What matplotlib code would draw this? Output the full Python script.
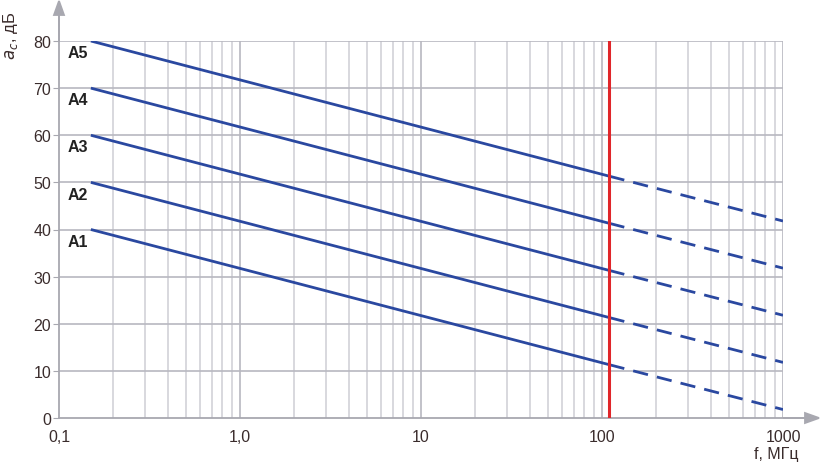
import matplotlib
matplotlib.use("Agg")
import matplotlib.pyplot as plt
import numpy as np
from matplotlib.ticker import FixedLocator, NullFormatter

plt.rcParams['font.family'] = ['Liberation Sans', 'DejaVu Sans']

names = ["A1", "A2", "A3", "A4", "A5"]
f_solid = [0.15, 110]
f_dash = [110, 1000]
v_start = [40, 50, 60, 70, 80]
v_mid = [11.3, 21.3, 31.3, 41.3, 51.3]
v_end = [1.8, 11.8, 21.8, 31.8, 41.8]
f_limit = 110
xticks = [0.1, 1, 10, 100, 1000]
xticklabels = ["0,1", "1,0", "10", "100", "1000"]
yticks = [0, 10, 20, 30, 40, 50, 60, 70, 80]

blue = "#2a48a0"
red = "#e0262a"
grid_c = "#d2d2d8"
grid_major = "#b8b8c0"
txt_c = "#3a2c2c"

fig = plt.figure(figsize=(8.21, 4.64), dpi=100)
ax = fig.add_axes([59/821, 1-419/464, (783-59)/821, (419-42)/464])
ax.set_xscale("log")
ax.set_xlim(0.1, 1000)
ax.set_ylim(0, 80)

minor = []
for d in [0.1, 1, 10, 100]:
    minor += [d*k for k in range(2, 10)]
for m in minor:
    ax.axvline(m, color=grid_c, lw=1.2, zorder=0)
for m in [1, 10, 100, 1000]:
    ax.axvline(m, color=grid_major, lw=1.2, zorder=0)
for y in yticks[1:]:
    ax.axhline(y, color=grid_major, lw=1.2, zorder=0)

for n, a, b, c in zip(names, v_start, v_mid, v_end):
    ax.plot(f_solid, [a, b], color=blue, lw=2.0, solid_capstyle='butt', zorder=3)
    ln, = ax.plot(f_dash, [b, c], color=blue, lw=2.0, zorder=3)
    ln.set_dashes([5.5, 3.3])
    ax.annotate(n, (f_solid[0], a), xytext=(-2, -3), textcoords='offset points',
                ha='right', va='top', fontsize=11.5, fontweight='bold', color='#222222')

ax.axvline(f_limit, color=red, lw=2.2, zorder=4)

for s in ['top', 'right']:
    ax.spines[s].set_visible(False)
for s in ['left', 'bottom']:
    ax.spines[s].set_color('#a8a8b0')
    ax.spines[s].set_linewidth(1.3)

ax.xaxis.set_major_locator(FixedLocator(xticks))
ax.set_xticklabels(xticklabels)
ax.xaxis.set_minor_formatter(NullFormatter())
ax.tick_params(axis='x', which='both', length=0, pad=8, labelsize=11.5, labelcolor=txt_c)
ax.set_yticks(yticks)
ax.set_yticklabels([str(v) for v in yticks])
ax.tick_params(axis='y', length=4, color='#a8a8b0', pad=1.5, labelsize=11.5, labelcolor=txt_c)

# axis arrows
fig.patches.append(matplotlib.patches.FancyArrow(59/821, 1-42/464, 0, 40/464, width=0,
                   head_width=10/821, head_length=14/464, length_includes_head=True,
                   color='#a8a8b0', transform=fig.transFigure, figure=fig, lw=1.3))
fig.patches.append(matplotlib.patches.FancyArrow(783/821, 1-419/464, 36/821, 0, width=0,
                   head_width=10/464, head_length=14/821, length_includes_head=True,
                   color='#a8a8b0', transform=fig.transFigure, figure=fig, lw=1.3))

fig.text(11/821, 1-36/464, r"$a_c$, дБ", rotation=90, ha='center', va='center',
         fontsize=12, color=txt_c)
fig.text(776/821, 1-455/464, "f, МГц", ha='center', va='center', fontsize=11.5, color=txt_c)

fig.savefig("out.png", dpi=100)
